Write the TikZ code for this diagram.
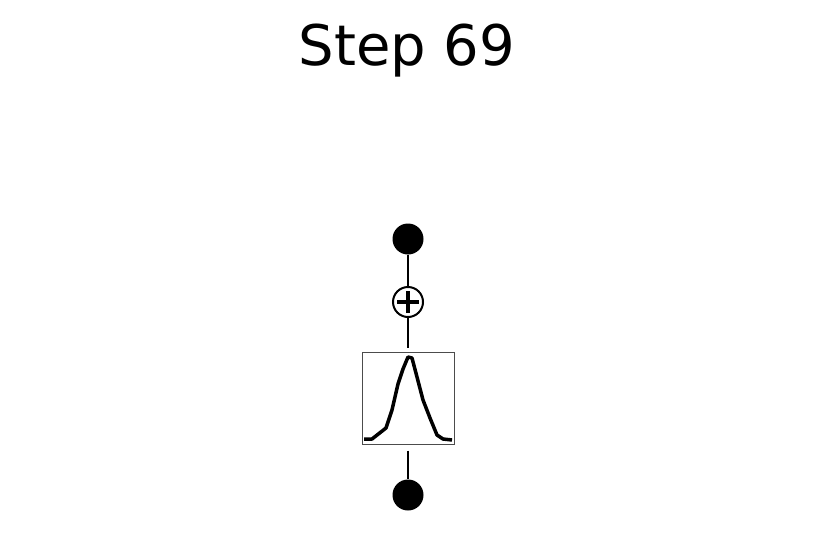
\documentclass[tikz,border=0pt]{standalone}
\usepackage{fontspec}
\setmainfont{DejaVu Sans}
\begin{document}
\begin{tikzpicture}[x=1pt,y=-1pt]
\tikzset{
    dot/.style={circle, fill=black, inner sep=0pt, minimum size=31pt},
    sum/.style={circle, draw, line width=2pt, inner sep=0pt, minimum size=30pt},
    act/.style={draw=black!70, line width=1pt, inner sep=0pt, minimum width=92pt, minimum height=92pt},
    wire/.style={line width=2pt},
    cross/.style={line width=4.5pt},
    bump/.style={line width=3.5pt, line join=round}}
\def\arm{11}
\useasboundingbox (0,0) rectangle (814,541);

\node[anchor=base] (title) at (407,65) {\fontsize{56}{60}\selectfont Step 69};

\node[dot] (in) at (408,239) {};
\node[sum] (add) at (408,302) {};
\node[act] (box) at (408,398) {};
\node[dot] (out) at (408,495) {};

\draw[cross] ([xshift=-\arm pt]add.center) -- ([xshift=\arm pt]add.center);
\draw[cross] ([yshift=-\arm pt]add.center) -- ([yshift=\arm pt]add.center);

\draw[wire] (in) -- (add);
\draw[wire, shorten >=4pt] (add) -- (box);
\draw[wire, shorten <=6pt] (box) -- (out);

\draw[bump] (364,439) -- (372,439) -- (386,428) -- (392,410) -- (398,384)
    -- (403,369) -- (408,357) -- (412,358) -- (417,377) -- (423,400)
    -- (430,418) -- (437,435) -- (443,439) -- (452,440);
\end{tikzpicture}
\end{document}
